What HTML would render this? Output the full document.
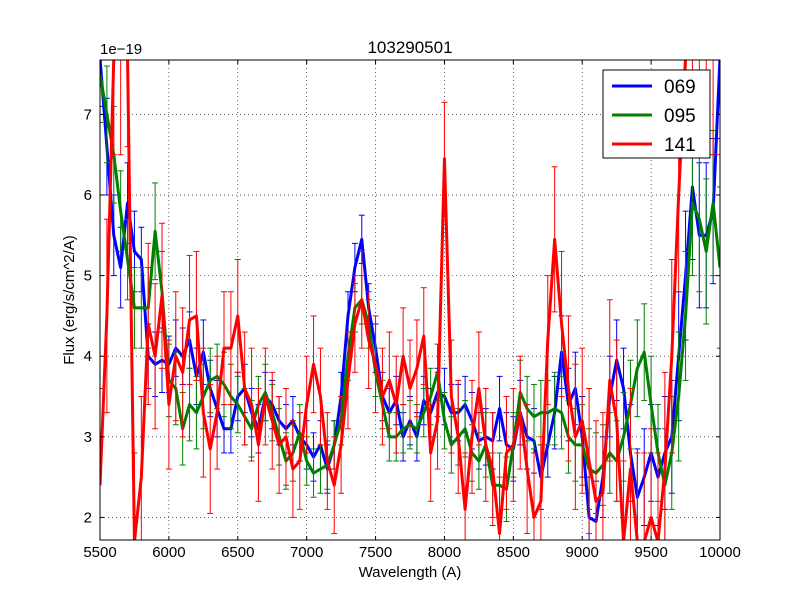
<!DOCTYPE html>
<html><head><meta charset="utf-8"><style>
body{margin:0;background:#fff;}
svg{display:block;font-family:"Liberation Sans","DejaVu Sans",sans-serif;}
</style></head><body>
<svg id="chart" width="800" height="600">
<rect width="800" height="600" fill="#fff"/>
<defs><clipPath id="clip"><rect x="100" y="60" width="620" height="480"/></clipPath></defs>
<g id="grid"></g>
<g id="series" clip-path="url(#clip)"></g>
<rect x="100" y="60" width="620" height="480" fill="none" stroke="#000"/>
<g id="axes"></g>
<text x="410" y="53" font-size="17" text-anchor="middle">103290501</text>
<text x="410" y="577" font-size="15" text-anchor="middle">Wavelength (A)</text>
<text x="74" y="300" font-size="15" text-anchor="middle" transform="rotate(-90 74 300)">Flux (erg/s/cm^2/A)</text>
<text x="100" y="54" font-size="15">1e−19</text>
<g id="legend">
<rect x="603" y="70" width="107" height="88" fill="#fff" stroke="#000"/>
</g>
</svg>
<script>
const wl=[5500,5550,5600,5650,5700,5750,5800,5850,5900,5950,6000,6050,6100,6150,6200,6250,6300,6350,6400,6450,6500,6550,6600,6650,6700,6750,6800,6850,6900,6950,7000,7050,7100,7150,7200,7250,7300,7350,7400,7450,7500,7550,7600,7650,7700,7750,7800,7850,7900,7950,8000,8050,8100,8150,8200,8250,8300,8350,8400,8450,8500,8550,8600,8650,8700,8750,8800,8850,8900,8950,9000,9050,9100,9150,9200,9250,9300,9350,9400,9450,9500,9550,9600,9650,9700,9750,9800,9850,9900,9950,10000];
const s069=[7.7,6.6,5.5,5.1,5.9,5.3,5.2,4.0,3.9,3.95,3.9,4.1,4.0,4.2,3.75,4.05,3.6,3.35,3.1,3.1,3.5,3.6,3.3,3.1,3.5,3.4,3.2,3.1,3.2,3.0,2.9,2.75,2.9,2.6,2.9,3.5,4.5,5.1,5.45,4.6,4.1,3.5,3.3,3.45,3.0,3.2,3.0,3.45,3.3,3.55,3.5,3.3,3.3,3.4,3.2,2.95,3.0,2.95,3.35,2.9,2.85,3.3,3.0,2.95,2.5,2.9,3.3,4.05,3.4,3.6,3.0,2.0,1.95,2.5,3.5,3.95,3.6,2.8,2.25,2.5,2.8,2.5,2.8,3.0,4.0,5.0,6.1,5.5,5.5,5.8,7.7];
const s095=[7.5,7.0,6.5,5.8,5.2,4.6,4.6,4.6,5.55,4.8,3.7,3.6,3.1,3.4,3.3,3.5,3.7,3.75,3.65,3.5,3.4,3.25,3.1,3.4,3.55,3.3,3.0,2.7,2.8,3.05,2.7,2.55,2.6,2.65,2.9,3.2,4.0,4.6,4.7,4.4,3.8,3.4,3.0,3.0,3.1,3.15,3.1,3.3,3.5,3.8,3.2,2.9,3.0,3.1,2.8,2.7,2.9,2.4,2.4,2.35,2.9,3.55,3.35,3.25,3.3,3.3,3.35,3.3,3.0,2.9,2.9,2.6,2.55,2.65,2.8,2.7,3.0,3.4,3.85,4.05,3.4,2.8,2.4,2.8,3.5,4.5,5.9,5.7,5.3,5.9,5.1];
const s141=[2.4,4.5,7.7,7.7,7.7,1.7,2.5,4.4,4.0,4.75,3.4,4.0,3.8,4.45,4.5,3.3,2.85,3.3,4.1,4.1,4.5,3.6,3.4,2.9,3.5,3.2,2.9,3.0,2.6,2.7,3.4,3.9,3.5,2.7,2.4,2.9,3.7,4.4,4.7,4.2,3.9,3.5,3.7,3.4,4.0,3.6,3.85,4.25,2.8,3.2,6.45,3.5,3.0,2.1,3.0,3.6,2.9,2.6,1.8,2.8,2.9,3.3,2.6,2.0,2.2,4.2,5.45,4.4,3.6,3.0,3.2,2.7,2.2,2.3,3.7,3.2,1.7,2.6,1.7,1.7,2.0,1.7,2.6,4.0,6.0,7.7,7.7,7.7,7.7,7.7,7.7];
const e069=[0.6,0.6,0.5,0.5,0.5,0.5,0.4,0.4,0.4,0.4,0.35,0.35,0.35,0.35,0.35,0.4,0.35,0.35,0.3,0.3,0.3,0.3,0.3,0.3,0.3,0.3,0.3,0.3,0.3,0.3,0.3,0.3,0.3,0.3,0.3,0.3,0.3,0.3,0.3,0.3,0.3,0.3,0.3,0.3,0.3,0.3,0.3,0.3,0.3,0.3,0.35,0.35,0.35,0.35,0.35,0.35,0.35,0.35,0.4,0.4,0.4,0.4,0.4,0.4,0.4,0.4,0.45,0.45,0.45,0.45,0.5,0.5,0.5,0.5,0.5,0.5,0.5,0.6,0.6,0.6,0.6,0.6,0.7,0.7,0.8,0.8,0.9,0.9,0.9,0.9,1.0];
const e095=[0.6,0.6,0.6,0.5,0.5,0.5,0.5,0.5,0.6,0.5,0.45,0.45,0.45,0.45,0.45,0.4,0.4,0.4,0.4,0.4,0.35,0.35,0.35,0.35,0.35,0.35,0.35,0.35,0.35,0.35,0.3,0.3,0.3,0.3,0.3,0.3,0.3,0.3,0.3,0.3,0.3,0.3,0.3,0.3,0.3,0.3,0.3,0.3,0.35,0.35,0.35,0.35,0.35,0.35,0.35,0.35,0.4,0.4,0.4,0.4,0.4,0.4,0.4,0.4,0.4,0.4,0.45,0.45,0.45,0.45,0.5,0.5,0.5,0.5,0.5,0.5,0.55,0.55,0.6,0.6,0.6,0.6,0.7,0.7,0.8,0.8,0.9,0.9,0.9,0.9,1.0];
const e141=[1.2,1.2,1.2,1.2,1.1,1.1,1.0,1.0,0.9,0.9,0.8,0.8,0.8,0.8,0.8,0.8,0.8,0.7,0.7,0.7,0.7,0.7,0.7,0.7,0.6,0.6,0.6,0.6,0.6,0.6,0.6,0.6,0.6,0.6,0.6,0.6,0.6,0.6,0.6,0.6,0.6,0.6,0.6,0.6,0.6,0.6,0.6,0.6,0.6,0.6,0.7,0.7,0.7,0.7,0.7,0.7,0.7,0.7,0.7,0.7,0.7,0.7,0.8,0.8,0.8,0.8,0.9,0.9,0.9,0.9,0.9,0.9,1.0,1.0,1.0,1.0,1.0,1.0,1.1,1.1,1.1,1.1,1.2,1.2,1.2,1.2,1.2,1.2,1.2,1.2,1.2];
const xTicks=[5500,6000,6500,7000,7500,8000,8500,9000,9500,10000];
const yTicks=[2,3,4,5,6,7];
const seriesNames=["069","095","141"];

const X=v=>100+(v-5500)*620/4500;
const Y=v=>540-(v-1.72)*480/(7.675-1.72);
const NS="http://www.w3.org/2000/svg";
function mk(tag,attrs,parent){const e=document.createElementNS(NS,tag);for(const k in attrs)e.setAttribute(k,attrs[k]);parent.appendChild(e);return e;}
const grid=document.getElementById('grid'),axes=document.getElementById('axes'),ser=document.getElementById('series'),leg=document.getElementById('legend');
xTicks.forEach(t=>{const x=X(t);
 const g=mk('line',{x1:x,x2:x,y1:60,y2:540,stroke:'#000','stroke-dasharray':'1,3','stroke-width':0.6},grid);
 
 
 mk('line',{x1:x,x2:x,y1:540,y2:536,stroke:'#000'},axes);
 mk('line',{x1:x,x2:x,y1:60,y2:64,stroke:'#000'},axes);
 const tx=mk('text',{x:x,y:557,'font-size':15,'text-anchor':'middle'},axes);tx.textContent=t;
 
 
});
yTicks.forEach(t=>{const y=Y(t);
 const g=mk('line',{x1:100,x2:720,y1:y,y2:y,stroke:'#000','stroke-dasharray':'1,3','stroke-width':0.6},grid);
 
 
 mk('line',{x1:100,x2:104,y1:y,y2:y,stroke:'#000'},axes);
 mk('line',{x1:716,x2:720,y1:y,y2:y,stroke:'#000'},axes);
 const tx=mk('text',{x:92,y:y+5,'font-size':15,'text-anchor':'end'},axes);tx.textContent=t;
 
 
});
const defs=[[s069,e069,'#0000ff'],[s095,e095,'#008000'],[s141,e141,'#ff0000']];
defs.forEach(([s,e,c],i)=>{
 const g=mk('g',{},ser);
 
 
 s.forEach((v,j)=>{const x=X(wl[j]);
  mk('line',{x1:x,x2:x,y1:Y(v-e[j]),y2:Y(v+e[j]),stroke:c,'stroke-width':1},g);
  mk('line',{x1:x-3,x2:x+3,y1:Y(v+e[j]),y2:Y(v+e[j]),stroke:c,'stroke-width':1},g);
  mk('line',{x1:x-3,x2:x+3,y1:Y(v-e[j]),y2:Y(v-e[j]),stroke:c,'stroke-width':1},g);
 });
 const p=mk('polyline',{points:s.map((v,j)=>X(wl[j])+','+Y(v)).join(' '),fill:'none',stroke:c,'stroke-width':3,'stroke-linejoin':'round'},g);
 
 
 const ly=86+i*29;
 const ll=mk('line',{x1:612,x2:652,y1:ly,y2:ly,stroke:c,'stroke-width':3},leg);
 
 
 const lt=mk('text',{x:664,y:ly+7,'font-size':19},leg);lt.textContent=seriesNames[i];
 
 
});
</script>
</body></html>
